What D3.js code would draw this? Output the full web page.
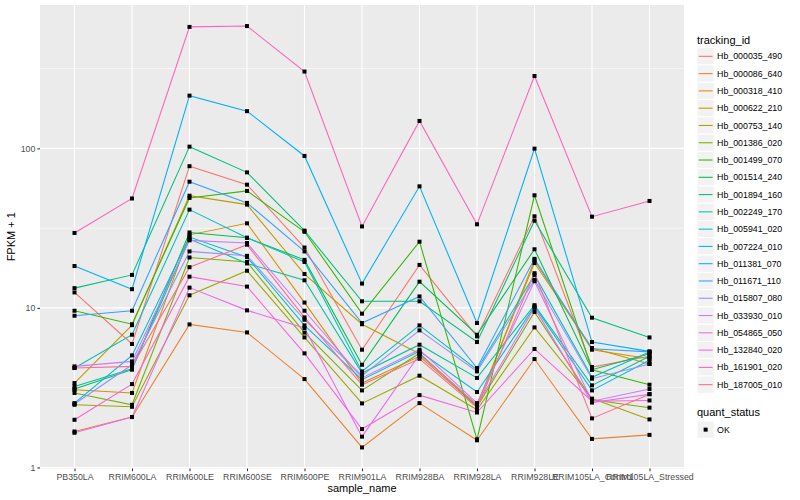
<!DOCTYPE html>
<html>
<head>
<meta charset="utf-8">
<script src="https://cdn.jsdelivr.net/npm/d3@7"></script>
<style>
body{margin:0;background:#fff;}
text{font-family:"Liberation Sans",Arial,sans-serif;}
</style>
</head>
<body>
<svg id="chart" width="800" height="500"></svg>
<script>
// sample columns on the x axis
let samples = ["PB350LA", "RRIM600LA", "RRIM600LE", "RRIM600SE", "RRIM600PE", "RRIM901LA",
  "RRIM928BA", "RRIM928LA", "RRIM928LE", "RRIM105LA_Control", "RRIM105LA_Stressed"];

let trackingIds = ["Hb_000035_490", "Hb_000086_640", "Hb_000318_410", "Hb_000622_210", "Hb_000753_140",
  "Hb_001386_020", "Hb_001499_070", "Hb_001514_240", "Hb_001894_160", "Hb_002249_170",
  "Hb_005941_020", "Hb_007224_010", "Hb_011381_070", "Hb_011671_110", "Hb_015807_080",
  "Hb_033930_010", "Hb_054865_050", "Hb_132840_020", "Hb_161901_020", "Hb_187005_010"];

// FPKM + 1, one array per gene, in sample order
let hb_000035_490 = [12.5, 5.94, 77.3, 59.2, 23.9, 5.47, 18.6, 6.63, 37.5, 4.26, 4.97];
let hb_000086_640 = [1.68, 2.07, 7.88, 7.02, 3.58, 1.335, 2.53, 1.48, 4.78, 1.51, 1.60];
let hb_000318_410 = [3.07, 2.93, 28.7, 33.9, 10.8, 3.38, 4.97, 2.42, 19.9, 5.47, 4.8];
let hb_000622_210 = [3.38, 7.8, 50.5, 44.4, 16.3, 7.9, 5.16, 2.47, 19.1, 5.6, 4.45];
let hb_000753_140 = [2.47, 2.40, 12.0, 17.1, 6.53, 2.52, 3.76, 2.3, 7.55, 2.7, 2.0];
let hb_001386_020 = [2.93, 2.47, 20.7, 19.4, 7.0, 3.04, 5.2, 2.4, 9.42, 2.66, 2.37];
let hb_001499_070 = [9.6, 7.9, 48.9, 54.1, 30.0, 9.2, 26.0, 1.50, 50.8, 4.1, 3.3];
let hb_001514_240 = [3.1, 4.1, 29.7, 27.5, 20.0, 4.4, 14.6, 6.79, 23.3, 4.1, 5.16];
let hb_001894_160 = [13.3, 16.1, 102.5, 70.7, 30.5, 11.0, 11.0, 6.11, 35.2, 8.68, 6.53];
let hb_002249_170 = [3.22, 4.15, 27.0, 19.0, 14.9, 3.91, 5.88, 3.64, 10.4, 3.27, 4.97];
let hb_005941_020 = [4.2, 6.79, 41.3, 27.5, 19.4, 4.0, 7.77, 4.1, 16.1, 3.67, 5.3];
let hb_007224_010 = [2.53, 5.04, 27.8, 20.8, 7.77, 3.55, 5.34, 2.97, 10.2, 3.04, 4.7];
let hb_011381_070 = [18.3, 13.1, 214, 171, 89.6, 14.2, 57.8, 8.04, 99.6, 6.11, 5.34];
let hb_011671_110 = [8.93, 9.6, 61.8, 45.5, 22.6, 8.04, 11.8, 4.2, 20.3, 5.55, 5.3];
let hb_015807_080 = [2.5, 4.4, 22.6, 21.2, 8.43, 3.76, 7.23, 4.0, 15.0, 3.6, 4.45];
let hb_033930_010 = [4.3, 4.62, 26.5, 25.5, 9.6, 3.64, 5.47, 2.53, 14.7, 2.6, 3.10];
let hb_054865_050 = [1.65, 2.07, 13.4, 9.65, 7.48, 1.56, 5.1, 2.47, 10.0, 2.55, 2.88];
let hb_132840_020 = [1.99, 3.33, 15.7, 13.6, 5.19, 1.74, 2.84, 2.21, 5.53, 2.6, 2.63];
let hb_161901_020 = [29.5, 48.5, 577, 584, 303, 32.4, 148.5, 33.4, 284, 37.3, 46.8];
let hb_187005_010 = [4.2, 4.3, 18.0, 24.9, 8.72, 3.30, 4.80, 2.37, 16.5, 2.03, 2.88];

let seriesValues = [hb_000035_490, hb_000086_640, hb_000318_410, hb_000622_210, hb_000753_140,
  hb_001386_020, hb_001499_070, hb_001514_240, hb_001894_160, hb_002249_170,
  hb_005941_020, hb_007224_010, hb_011381_070, hb_011671_110, hb_015807_080,
  hb_033930_010, hb_054865_050, hb_132840_020, hb_161901_020, hb_187005_010];

let yBreaks = [1, 10, 100];
let yMinorBreaks = [Math.sqrt(10), Math.sqrt(1000), Math.sqrt(100000)];

// ggplot default hue palette for 20 groups
let hueColors = ["#F8766D", "#EA8331", "#D89000", "#C09B00", "#A3A500", "#7CAE00", "#39B600", "#00BB4E",
  "#00BF7D", "#00C1A3", "#00BFC4", "#00BAE0", "#00B0F6", "#35A2FF", "#9590FF", "#C77CFF",
  "#E76BF3", "#FA62DB", "#FF62BC", "#FF6C91"];

window.onload = function(){
  makeChart();
  makeLegend();
}

function makeChart(){
  let svg = d3.select("#chart");
  let left = 40, right = 684, top = 5, bottom = 468.5;

  // log scale with ggplot's 5% expansion
  let allVals = seriesValues.flat();
  let lo = Math.log10(d3.min(allVals)), hi = Math.log10(d3.max(allVals));
  let pad = (hi - lo) * 0.05;
  let y = d3.scaleLog()
    .domain([Math.pow(10, lo - pad), Math.pow(10, hi + pad)])
    .range([bottom, top]);
  let x = d3.scalePoint()
    .domain(samples)
    .range([left, right])
    .padding(0.6);

  svg.append("rect")
    .attr("x", left).attr("y", top)
    .attr("width", right - left).attr("height", bottom - top)
    .attr("fill", "#EBEBEB");

  //grid
  svg.selectAll(".minor")
    .data(yMinorBreaks)
    .enter()
    .append("line")
    .attr("x1", left).attr("x2", right)
    .attr("y1", d => y(d)).attr("y2", d => y(d))
    .attr("stroke", "white").attr("stroke-width", 0.55);
  svg.selectAll(".majory")
    .data(yBreaks)
    .enter()
    .append("line")
    .attr("x1", left).attr("x2", right)
    .attr("y1", d => y(d)).attr("y2", d => y(d))
    .attr("stroke", "white").attr("stroke-width", 1.1);
  svg.selectAll(".majorx")
    .data(samples)
    .enter()
    .append("line")
    .attr("x1", d => x(d)).attr("x2", d => x(d))
    .attr("y1", top).attr("y2", bottom)
    .attr("stroke", "white").attr("stroke-width", 1.1);

  // lines, drawn in group order
  let line = d3.line()
    .x((d, i) => x(samples[i]))
    .y(d => y(d));
  svg.selectAll(".series")
    .data(seriesValues)
    .enter()
    .append("path")
    .attr("d", line)
    .attr("fill", "none")
    .attr("stroke", (d, i) => hueColors[i])
    .attr("stroke-width", 1.07);

  // points (square, quant_status OK)
  let pts = [];
  seriesValues.forEach(vals => vals.forEach((v, i) => pts.push({s: samples[i], v: v})));
  svg.selectAll(".pt")
    .data(pts)
    .enter()
    .append("rect")
    .attr("x", d => x(d.s) - 2).attr("y", d => y(d.v) - 2)
    .attr("width", 4).attr("height", 4)
    .attr("fill", "black");

  // axes
  let yAxis = svg.append("g")
    .attr("transform", `translate(${left},0)`)
    .call(d3.axisLeft(y).tickValues(yBreaks).tickFormat(d3.format("d")).tickSize(2.7).tickPadding(2));
  let xAxis = svg.append("g")
    .attr("transform", `translate(0,${bottom})`)
    .call(d3.axisBottom(x).tickSize(2.7).tickPadding(2.2));
  for(let g of [xAxis, yAxis]){
    g.select(".domain").remove();
    g.selectAll("line").attr("stroke", "#333333").attr("stroke-width", 1.07);
    g.selectAll("text")
      .attr("fill", "#4D4D4D")
      .style("font-size", "8.8px")
      .style("font-family", "Liberation Sans, Arial, sans-serif");
  }

  svg.append("text")
    .attr("x", (left + right) / 2).attr("y", 492)
    .attr("text-anchor", "middle")
    .style("font-size", "11px")
    .text("sample_name");
  svg.append("text")
    .attr("transform", `translate(15,${(top + bottom) / 2}) rotate(-90)`)
    .attr("text-anchor", "middle")
    .style("font-size", "11px")
    .text("FPKM + 1");
}

function makeLegend(){
  let svg = d3.select("#chart");
  let lx = 697, keyH = 17.28, keyTop = 47.7;

  svg.append("text")
    .attr("x", lx).attr("y", 43.5)
    .style("font-size", "11px")
    .text("tracking_id");

  let keys = svg.selectAll(".key")
    .data(trackingIds)
    .enter()
    .append("g")
    .attr("transform", (d, i) => `translate(${lx},${keyTop + i * keyH})`);
  keys.append("rect")
    .attr("width", keyH).attr("height", keyH)
    .attr("fill", "#F2F2F2").attr("stroke", "white").attr("stroke-width", 1);
  keys.append("line")
    .attr("x1", 1.7).attr("x2", keyH - 1.7)
    .attr("y1", keyH / 2).attr("y2", keyH / 2)
    .attr("stroke", (d, i) => hueColors[i])
    .attr("stroke-width", 1.07);
  keys.append("text")
    .attr("x", keyH + 2.8).attr("y", keyH / 2 + 3.1)
    .style("font-size", "8.8px")
    .text(d => d);

  let qTop = 421;
  svg.append("text")
    .attr("x", lx).attr("y", 416)
    .style("font-size", "11px")
    .text("quant_status");
  svg.append("rect")
    .attr("x", lx).attr("y", qTop)
    .attr("width", keyH).attr("height", keyH)
    .attr("fill", "#F2F2F2").attr("stroke", "white");
  svg.append("rect")
    .attr("x", lx + keyH / 2 - 2).attr("y", qTop + keyH / 2 - 2)
    .attr("width", 4).attr("height", 4)
    .attr("fill", "black");
  svg.append("text")
    .attr("x", lx + keyH + 2.8).attr("y", qTop + keyH / 2 + 3.1)
    .style("font-size", "8.8px")
    .text("OK");
}
</script>
</body>
</html>
